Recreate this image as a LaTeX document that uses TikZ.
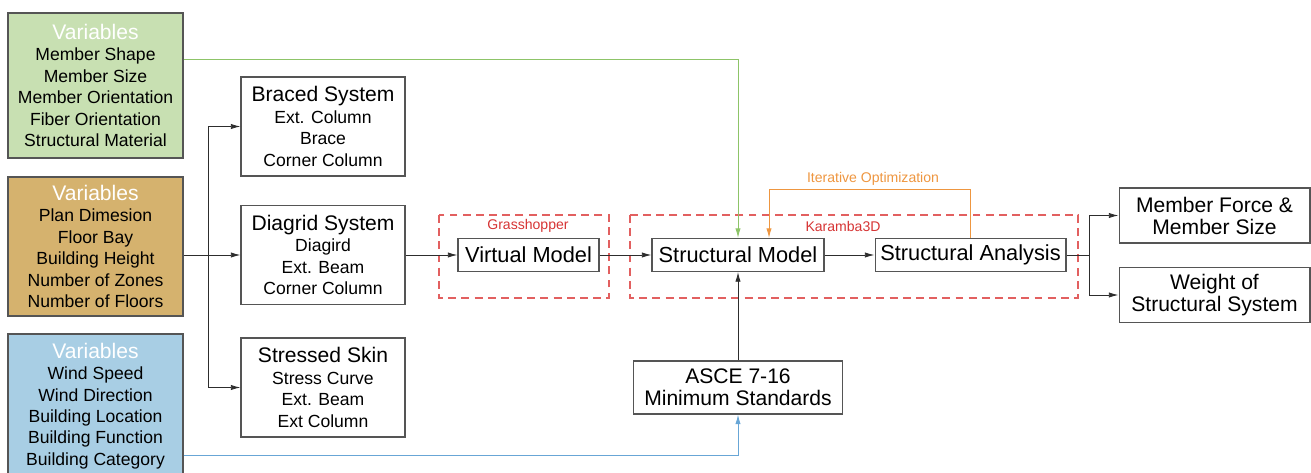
\documentclass[tikz,border=0pt]{standalone}
\usepackage{fontspec}
\setmainfont{Liberation Sans}
\usetikzlibrary{arrows.meta}

\definecolor{vargreen}{RGB}{200,224,178}
\definecolor{vartan}{RGB}{213,178,110}
\definecolor{varblue}{RGB}{168,206,228}
\definecolor{lngreen}{RGB}{141,196,104}
\definecolor{lnorange}{RGB}{238,150,64}
\definecolor{lnblue}{RGB}{104,166,214}
\definecolor{dashred}{RGB}{226,96,96}
\definecolor{txtred}{RGB}{214,52,52}
\definecolor{edge}{RGB}{85,85,85}
\definecolor{wire}{RGB}{45,45,45}

\tikzset{
	varbox/.style={draw=edge, line width=0.6pt, inner sep=0pt, minimum width=3.5cm, align=center, font=\fontsize{10}{12.2}\selectfont},
	sysbox/.style={draw=edge, line width=0.6pt, inner sep=0pt, minimum width=3.28cm, minimum height=1.98cm, align=center, font=\fontsize{10}{12.2}\selectfont},
	stepbox/.style={draw=edge, line width=0.6pt, inner sep=0pt, minimum height=0.66cm, align=center, font=\fontsize{12.4}{14}\selectfont},
	outbox/.style={draw=edge, line width=0.6pt, inner sep=0pt, minimum width=3.82cm, minimum height=1.1cm, align=center, font=\fontsize{12}{12.5}\selectfont},
	zone/.style={draw=dashred, line width=0.6pt, dash pattern=on 4.5pt off 3pt},
	zonelabel/.style={text=txtred, font=\fontsize{8}{9}\selectfont},
	arr/.style={draw=wire, line width=0.5pt, -{Latex[length=5.5pt,width=3pt]}},
}
\newcommand{\vtitle}[1]{{\fontsize{12}{14}\selectfont\color{white}#1}}
\newcommand{\btitle}[1]{{\fontsize{12}{14}\selectfont #1}}

\begin{document}
\begin{tikzpicture}[x=0.02cm, y=-0.02cm]
	\useasboundingbox (0,0) rectangle (1311,473);

	% variable boxes
	\node[varbox, fill=vargreen, minimum height=2.9cm] (vgreen) at (95.5,85.5)
		{\vtitle{Variables}\\Member Shape\\Member Size\\Member Orientation\\Fiber Orientation\\Structural Material};
	\node[varbox, fill=vartan, minimum height=2.78cm] (vtan) at (95.5,246.5)
		{\vtitle{Variables}\\Plan Dimesion\\Floor Bay\\Building Height\\Number of Zones\\Number of Floors};
	\node[varbox, fill=varblue, minimum height=2.88cm] (vblue) at (95.5,406)
		{\vtitle{Variables}\\Wind Speed\\Wind Direction\\Building Location\\Building Function\\Building Category};

	% structural systems
	\node[sysbox] (braced) at (323,126.5) {\btitle{Braced System}\\Ext. Column\\Brace\\Corner Column};
	\node[sysbox] (diagrid) at (323,255) {\btitle{Diagrid System}\\Diagird\\Ext. Beam\\Corner Column};
	\node[sysbox] (skin) at (323,387.5) {\btitle{Stressed Skin}\\Stress Curve\\Ext. Beam\\Ext Column};

	% software zones
	\draw[zone] (439,215) rectangle (609,298);
	\draw[zone] (630,215) rectangle (1078,298);
	\node[zonelabel] (grass) at (528,226) {Grasshopper};
	\node[zonelabel] (karamba) at (843,226) {Karamba3D};

	\node[stepbox, minimum width=2.82cm] (virtual) at (528.5,255) {Virtual Model};
	\node[stepbox, minimum width=3.44cm] (strucmodel) at (738,255) {Structural Model};
	\node[stepbox, minimum width=3.82cm] (analysis) at (970.5,255) {Structural Analysis};

	\node[outbox] (memforce) at (1214.5,215.5) {Member Force \&\\Member Size};
	\node[outbox] (weight) at (1214.5,295) {Weight of\\Structural System};
	\node[outbox, minimum width=4.18cm, minimum height=1.06cm] (asce) at (738,387.5) {ASCE 7-16\\Minimum Standards};

	\node[text=lnorange, font=\fontsize{8}{9}\selectfont] (iterlabel) at (873,179) {Iterative Optimization};

	% connectors
	\coordinate (split) at (208,255);
	\draw[arr] (vtan.east |- split) -- (diagrid.west);
	\draw[arr] (split) |- (braced.west);
	\draw[arr] (split) |- (skin.west);
	\draw[arr] (diagrid.east) -- (virtual.west);
	\draw[arr] (virtual.east) -- (strucmodel.west);
	\draw[arr] (strucmodel.east) -- (analysis.west);

	\coordinate (fork) at (1089,255);
	\draw[draw=wire, line width=0.5pt] (analysis.east) -- (fork);
	\draw[arr] (fork) |- (memforce.west);
	\draw[arr] (fork) |- (weight.west);

	\coordinate (gturn) at (738,59);
	\draw[arr, draw=lngreen] (vgreen.east |- gturn) -- (gturn) -- (strucmodel.north);

	\coordinate (oturn) at (769,189);
	\draw[arr, draw=lnorange] (analysis.north) |- (oturn) -- (oturn |- strucmodel.north);

	\draw[arr] (asce.north) -- (strucmodel.south);
	\coordinate (bturn) at (738,455);
	\draw[arr, draw=lnblue] (vblue.east |- bturn) -- (bturn) -- (asce.south);
\end{tikzpicture}
\end{document}
